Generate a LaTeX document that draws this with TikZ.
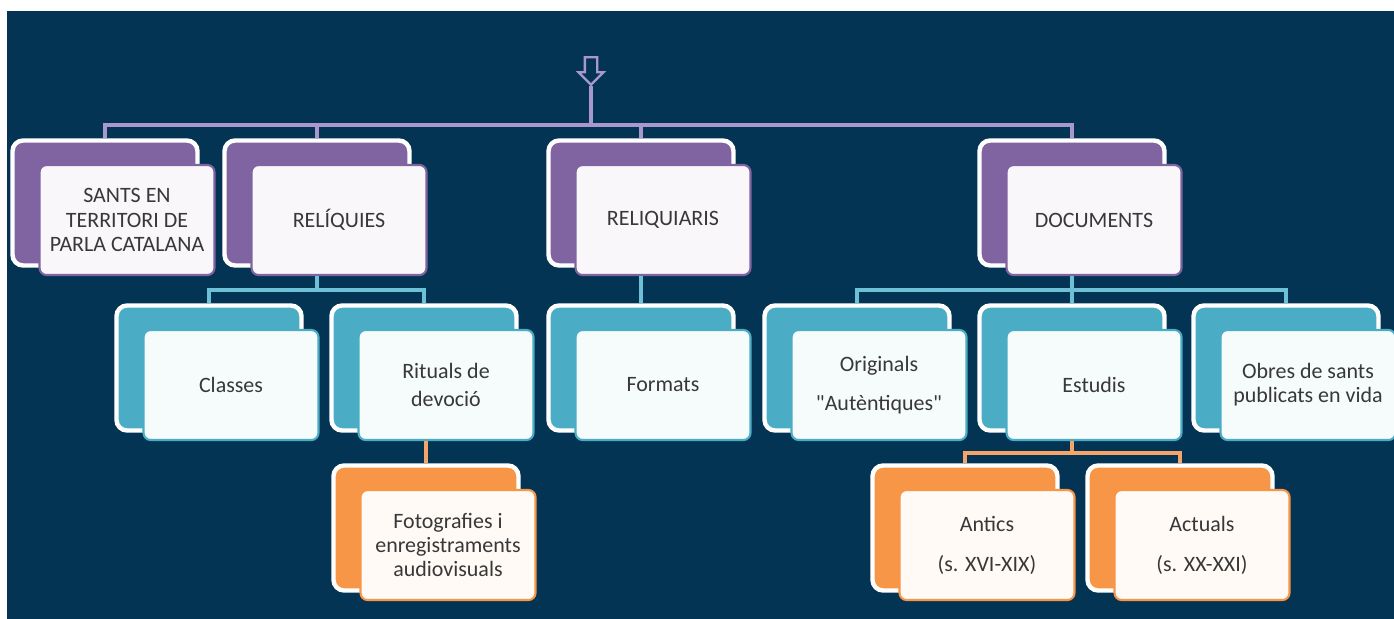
\documentclass[tikz,border=0pt]{standalone}
\usepackage{fontspec}
\setmainfont{Carlito}
\usetikzlibrary{shapes.arrows}
\definecolor{navy}{HTML}{043454}
\definecolor{lila}{HTML}{8064A2}
\definecolor{aqua}{HTML}{4BACC6}
\definecolor{taronja}{HTML}{F79646}
\definecolor{lilaline}{HTML}{A898CC}
\definecolor{aqualine}{HTML}{6CC0D8}
\definecolor{taronjaline}{HTML}{F7A468}
\definecolor{txt}{HTML}{383838}

\begin{document}
\begin{tikzpicture}[x=0.02cm,y=-0.02cm,
    back node/.style={rectangle,rounded corners=6pt,fill=#1,draw=white,line width=2.5pt,
                      minimum width=3.7cm,minimum height=2.5cm},
    front node/.style={rectangle,rounded corners=4pt,fill=#1!5!white,draw=#1,line width=1.2pt,
                       minimum width=3.5cm,minimum height=2.2cm,inner sep=2pt,align=center,
                       text=txt,font=\fontsize{12.5}{13.8}\selectfont},
    link/.style={line width=2.4pt,draw=#1}]
\useasboundingbox (0,0) rectangle (1394,619);
\fill[navy] (7,11) rectangle (1394,619);

% first level
\node[back node=lila] (santsb) at (105,203) {};
\node[front node=lila] (sants) at ([shift={(22,17)}]santsb) {SANTS EN\\TERRITORI DE\\PARLA CATALANA};
\node[back node=lila] (relb) at (317,203) {};
\node[front node=lila] (rel) at ([shift={(22,17)}]relb) {RELÍQUIES};
\node[back node=lila] (rqsb) at (641,203) {};
\node[front node=lila] (rqs) at ([shift={(22,17)}]rqsb) {RELIQUIARIS};
\node[back node=lila] (docb) at (1072,203) {};
\node[front node=lila] (doc) at ([shift={(22,17)}]docb) {DOCUMENTS};

% second level
\node[back node=aqua] (clab) at (209,368) {};
\node[front node=aqua] (cla) at ([shift={(22,17)}]clab) {Classes};
\node[back node=aqua] (ritb) at (424,368) {};
\node[front node=aqua] (rit) at ([shift={(22,17)}]ritb) {Rituals de\\[2pt]devoció};
\node[back node=aqua] (forb) at (641,368) {};
\node[front node=aqua] (for) at ([shift={(22,17)}]forb) {Formats};
\node[back node=aqua] (orib) at (857,368) {};
\node[front node=aqua] (ori) at ([shift={(22,17)}]orib) {Originals\\[8pt]\textquotedbl Autèntiques\textquotedbl};
\node[back node=aqua] (estb) at (1072,368) {};
\node[front node=aqua] (est) at ([shift={(22,17)}]estb) {Estudis};
\node[back node=aqua] (obrb) at (1286,368) {};
\node[front node=aqua] (obr) at ([shift={(22,17)}]obrb) {Obres de sants\\publicats en vida};

% third level
\node[back node=taronja] (fotb) at (426,528) {};
\node[front node=taronja] (fot) at ([shift={(22,17)}]fotb) {Fotografies i\\enregistraments\\audiovisuals};
\node[back node=taronja] (antb) at (965,528) {};
\node[front node=taronja] (ant) at ([shift={(22,17)}]antb) {Antics\\[9pt](s. XVI-XIX)};
\node[back node=taronja] (actb) at (1180,528) {};
\node[front node=taronja] (act) at ([shift={(22,17)}]actb) {Actuals\\[9pt](s. XX-XXI)};

% arrow and junctions
\node[single arrow,draw=lilaline,fill=navy,line width=1.3pt,shape border rotate=270,
      minimum height=0.55cm,inner sep=0.1cm,single arrow head extend=0.13cm] (top) at (591,68) {};
\coordinate (hub) at (591,125);
\coordinate (relj) at (317,290);
\coordinate (docj) at (1072,290);
\coordinate (estj) at (1072,453);

\draw[link=lilaline] (top.tip) -- (hub);
\draw[link=lilaline] (santsb.north) |- (hub) -| (docb.north);
\draw[link=lilaline] (relb.north) |- (hub);
\draw[link=lilaline] (rqsb.north) |- (hub);

\draw[link=aqualine] (relb |- rel.south) -- (relj);
\draw[link=aqualine] (clab.north) |- (relj) -| (ritb.north);
\draw[link=aqualine] (forb.north) -- (forb.north |- rqs.south);
\draw[link=aqualine] (docb |- doc.south) -- (docj);
\draw[link=aqualine] (orib.north) |- (docj) -| (obrb.north);
\draw[link=aqualine] (estb.north) -- (docj);

\draw[link=taronjaline] (fotb.north) -- (fotb.north |- rit.south);
\draw[link=taronjaline] (estb |- est.south) -- (estj);
\draw[link=taronjaline] (antb.north) |- (estj) -| (actb.north);
\end{tikzpicture}
\end{document}
